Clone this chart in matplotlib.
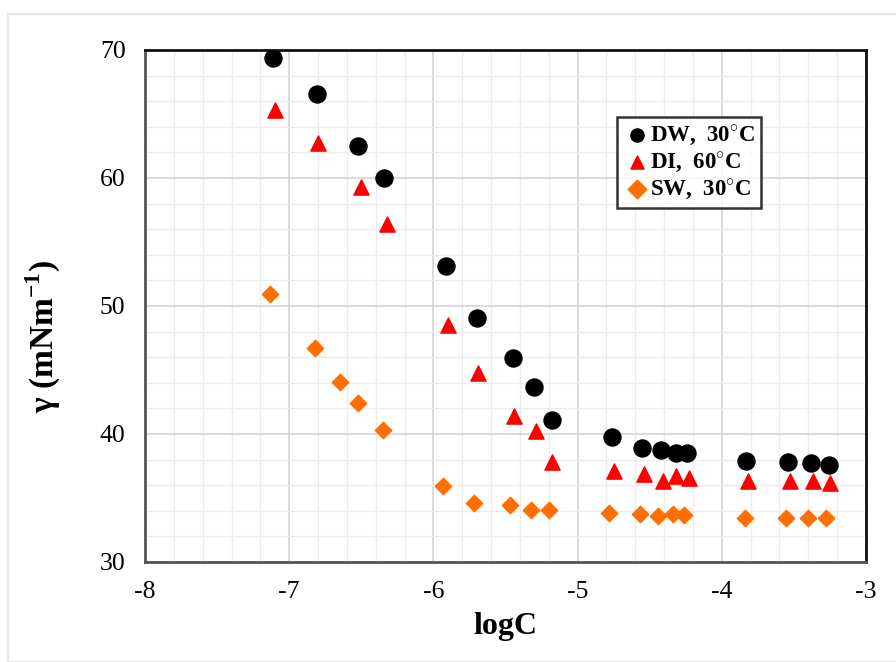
import matplotlib
matplotlib.use("Agg")
import matplotlib.pyplot as plt
from matplotlib.patches import Rectangle
from matplotlib.ticker import MultipleLocator

plt.rcParams['font.family'] = ['Liberation Serif', 'DejaVu Serif']
plt.rcParams['mathtext.fontset'] = 'custom'
plt.rcParams['mathtext.rm'] = 'Liberation Serif'
plt.rcParams['mathtext.bf'] = 'Liberation Serif:bold'
plt.rcParams['axes.unicode_minus'] = False

# data
dw_x = [-7.11, -6.81, -6.52, -6.34, -5.91, -5.70, -5.45, -5.30, -5.18,
        -4.76, -4.55, -4.42, -4.32, -4.24, -3.83, -3.54, -3.38, -3.26]
dw_y = [69.4, 66.6, 62.5, 60.0, 53.1, 49.1, 45.9, 43.7, 41.1,
        39.8, 38.9, 38.75, 38.5, 38.5, 37.9, 37.8, 37.7, 37.6]

di_x = [-7.10, -6.80, -6.50, -6.32, -5.90, -5.69, -5.44, -5.29, -5.18,
        -4.75, -4.54, -4.41, -4.32, -4.23, -3.82, -3.53, -3.37, -3.25]
di_y = [65.3, 62.7, 59.3, 56.4, 48.5, 44.8, 41.4, 40.2, 37.8,
        37.1, 36.9, 36.3, 36.7, 36.6, 36.3, 36.3, 36.3, 36.2]

sw_x = [-7.13, -6.82, -6.65, -6.52, -6.35, -5.93, -5.72, -5.47, -5.32, -5.20,
        -4.78, -4.57, -4.44, -4.34, -4.26, -3.84, -3.555, -3.40, -3.28]
sw_y = [50.9, 46.7, 44.1, 42.4, 40.3, 35.9, 34.6, 34.45, 34.1, 34.1,
        33.8, 33.75, 33.6, 33.75, 33.7, 33.4, 33.4, 33.4, 33.4]

fig = plt.figure(figsize=(8.96, 6.62), dpi=100)
fig.patches.append(Rectangle((8 / 896, 0), 1, 1 - 14 / 662, transform=fig.transFigure,
                             fill=False, edgecolor='#e6e6e6', lw=1.5, zorder=0))
ax = fig.add_axes([145 / 896, 1 - 562 / 662, 721 / 896, 512 / 662])

ax.scatter(dw_x, dw_y, marker='o', s=150, color='black', label='DW,  30$^{\\circ}$C', zorder=3)
ax.scatter(di_x, di_y, marker='^', s=120, color='#ff0000', label='DI,  60$^{\\circ}$C', zorder=3)
ax.scatter(sw_x, sw_y, marker='D', s=70, color='#ff6f00', label='SW,  30$^{\\circ}$C', zorder=3)

ax.set_xlim(-8, -3)
ax.set_ylim(30, 70)
ax.xaxis.set_major_locator(MultipleLocator(1))
ax.xaxis.set_minor_locator(MultipleLocator(0.2))
ax.yaxis.set_major_locator(MultipleLocator(10))
ax.yaxis.set_minor_locator(MultipleLocator(2))
ax.grid(which='major', color='#d4d4d4', lw=1.2)
ax.grid(which='minor', color='#ececec', lw=1.0)
ax.set_axisbelow(True)
ax.tick_params(which='both', length=0)
ax.tick_params(axis='y', pad=14, labelsize=18.5)
ax.tick_params(axis='x', pad=14, labelsize=18.5)

for side in ['top', 'right']:
    ax.spines[side].set_color('#111111')
    ax.spines[side].set_linewidth(2)
for side in ['left', 'bottom']:
    ax.spines[side].set_color('#555555')
    ax.spines[side].set_linewidth(2)

ax.set_xlabel('logC', fontsize=23, fontweight='bold', labelpad=6)
ax.set_ylabel('$\\mathbf{\\gamma}$ (mNm$^{\\mathbf{-1}}$)', fontsize=24, fontweight='bold')
ax.yaxis.set_label_coords(-0.114, 0.44)

leg = ax.legend(loc='upper left', bbox_to_anchor=(0.655, 0.869), frameon=True, fancybox=False,
                edgecolor='black', fontsize=16.5, handletextpad=0.0, borderpad=0.25,
                labelspacing=0.1, handlelength=1.2, borderaxespad=0)
leg.get_frame().set_linewidth(1.8)
for t in leg.get_texts():
    t.set_fontweight('bold')
for h in leg.legend_handles:
    h.set_sizes([90])

fig.savefig('out.png', dpi=100)
